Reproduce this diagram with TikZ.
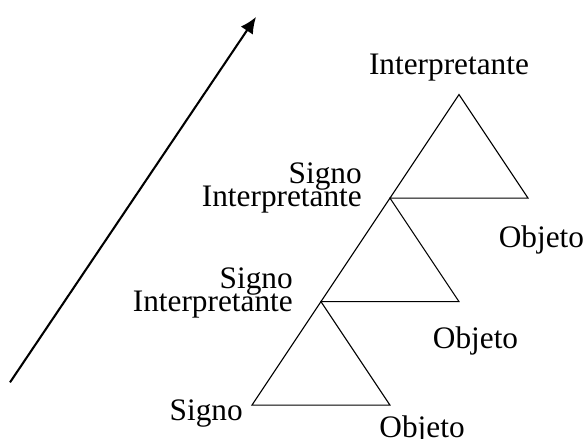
\documentclass[tikz,border=0pt]{standalone}
\usepackage{fontspec}
\setmainfont{Liberation Serif}
\usetikzlibrary{arrows.meta,calc,positioning}
\newcommand{\lblfont}{\fontsize{25.8}{19}\selectfont\lineskiplimit=-100pt\relax}
\tikzset{
  lbl/.style={inner sep=0pt,font=\lblfont},
  tri/.style={line width=0.9pt,line join=miter},
}

\begin{document}
\begin{tikzpicture}[>={Latex[length=13.5pt,width=12pt]}]
  \useasboundingbox (0,0) rectangle (17.01,12.70);
  % each triangle starts at the top of the one before
  \foreach \i in {0,1,2}{
    \coordinate (s\i) at ({7.3+2*\i},{0.96+3*\i});
    \coordinate (o\i) at ($(s\i)+(4,0)$);
    \coordinate (t\i) at ($(s\i)+(2,3)$);
    \draw[tri] (s\i) -- (t\i) -- (o\i) -- cycle;
  }
  \coordinate (tail) at (0.29,1.62);
  \coordinate (head) at (7.42,12.21);
  \draw[->,line width=1.7pt] (tail) -- (head);

  \node[lbl,anchor=base east] (sg0) at ($(s0)+(-0.26,-0.45)$) {Signo};
  \node[lbl,anchor=north] (ob0) at ($(o0)+(0.93,-0.29)$) {Objeto};
  \node[lbl,anchor=north] (ob1) at ($(o1)+(0.48,-0.72)$) {Objeto};
  \node[lbl,anchor=north] (ob2) at ($(o2)+(0.39,-0.81)$) {Objeto};
  \node[lbl,anchor=south east,align=right] (si1) at ($(s1)+(-0.81,-0.5)$)
    {Signo\\Interpretante};
  \node[lbl,anchor=south east,align=right] (si2) at ($(s2)+(-0.81,-0.45)$)
    {Signo\\Interpretante};
  \node[lbl,anchor=base] (in2) at ($(t2)+(-0.29,0.58)$) {Interpretante};
\end{tikzpicture}
\end{document}
